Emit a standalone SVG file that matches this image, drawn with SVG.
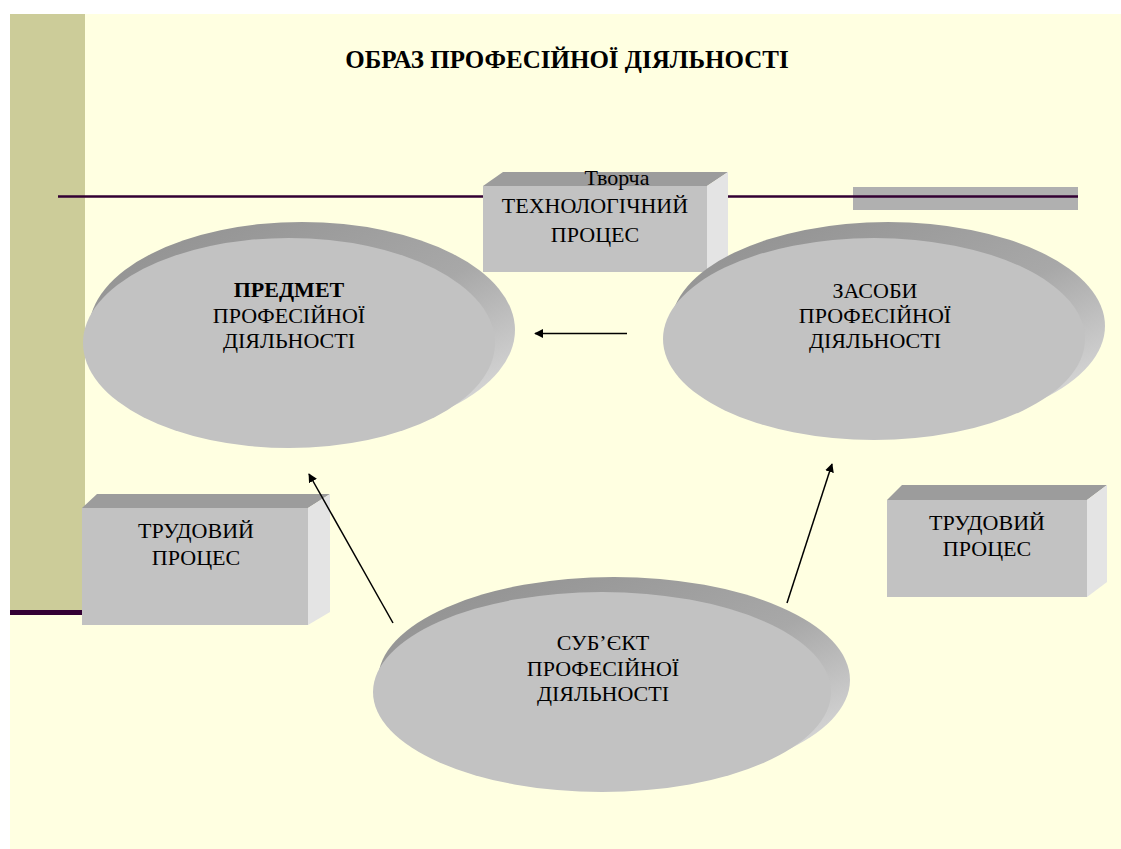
<svg xmlns="http://www.w3.org/2000/svg" width="1121" height="849" viewBox="0 0 1121 849">
<defs>
<style>
.t{font-family:"Liberation Serif","Times New Roman",serif;font-size:22px;fill:#000;text-anchor:middle}
.b{font-weight:bold}
.front{fill:#C2C2C2}
.top{fill:#9C9C9C}
.side{fill:#E4E4E4}
.conn{stroke:#000;stroke-width:1.5;fill:none;marker-end:url(#ah)}
</style>
<linearGradient id="ext" x1="0" y1="0" x2="1" y2="1">
<stop offset="0" stop-color="#8E8E8E"/>
<stop offset="0.55" stop-color="#A8A8A8"/>
<stop offset="1" stop-color="#E8E8E8"/>
</linearGradient>
<marker id="ah" viewBox="0 0 10 10" refX="9" refY="5" markerWidth="9" markerHeight="9" markerUnits="userSpaceOnUse" orient="auto">
<path d="M0,0 L10,5 L0,10 z" fill="#000"/>
</marker>
</defs>
<rect x="0" y="0" width="1121" height="849" fill="#FFFFFF"/>
<rect x="10" y="14" width="1111" height="835" fill="#FFFFE1"/>
<rect x="10" y="14" width="75" height="597" fill="#CCCC99"/>
<rect x="10" y="610" width="72" height="5" fill="#330033"/>
<rect x="853" y="187" width="225" height="23" fill="#B0B0B0"/>
<line x1="58" y1="196.5" x2="1078" y2="196.5" stroke="#330033" stroke-width="2.5"/>
<text class="t b" x="567" y="68" style="font-size:25px">ОБРАЗ ПРОФЕСІЙНОЇ ДІЯЛЬНОСТІ</text>

<g id="node-tech">
<polygon class="top" points="483,186 503,172 728,172 707,186"/>
<polygon class="side" points="707,186 728,172 728,257 707,272"/>
<rect class="front" x="483" y="186" width="224" height="86"/>
<text class="t" x="617" y="185">Творча</text>
<text class="t" x="595" y="213">ТЕХНОЛОГІЧНИЙ</text>
<text class="t" x="595" y="242">ПРОЦЕС</text>
</g>

<g id="node-predmet">
<ellipse cx="302" cy="330" rx="213" ry="108" fill="url(#ext)"/>
<ellipse class="front" cx="289" cy="343" rx="206" ry="105"/>
<text class="t b" x="289" y="297">ПРЕДМЕТ</text>
<text class="t" x="289" y="323">ПРОФЕСІЙНОЇ</text>
<text class="t" x="289" y="348">ДІЯЛЬНОСТІ</text>
</g>

<g id="node-zasoby">
<ellipse cx="888" cy="326" rx="217" ry="104" fill="url(#ext)"/>
<ellipse class="front" cx="874" cy="339" rx="211" ry="101"/>
<text class="t" x="875" y="298">ЗАСОБИ</text>
<text class="t" x="875" y="323">ПРОФЕСІЙНОЇ</text>
<text class="t" x="875" y="348">ДІЯЛЬНОСТІ</text>
</g>

<g id="node-subject">
<ellipse cx="614" cy="680" rx="236" ry="103" fill="url(#ext)"/>
<ellipse class="front" cx="602" cy="692" rx="229" ry="100"/>
<text class="t" x="603" y="650">СУБ’ЄКТ</text>
<text class="t" x="603" y="676">ПРОФЕСІЙНОЇ</text>
<text class="t" x="603" y="701">ДІЯЛЬНОСТІ</text>
</g>

<g id="node-labor-left">
<polygon class="top" points="82,508 97,494 330,494 308,508"/>
<polygon class="side" points="308,508 330,494 330,612 308,625"/>
<rect class="front" x="82" y="508" width="226" height="117"/>
<text class="t" x="196" y="538">ТРУДОВИЙ</text>
<text class="t" x="196" y="565">ПРОЦЕС</text>
</g>

<g id="node-labor-right">
<polygon class="top" points="887,500 902,485 1107,485 1087,500"/>
<polygon class="side" points="1087,500 1107,485 1107,582 1087,597"/>
<rect class="front" x="887" y="500" width="200" height="97"/>
<text class="t" x="987" y="530">ТРУДОВИЙ</text>
<text class="t" x="987" y="556">ПРОЦЕС</text>
</g>

<g id="connectors">
<line class="conn" x1="627" y1="333.5" x2="535" y2="333.5"/>
<line class="conn" x1="393" y1="623" x2="309" y2="474"/>
<line class="conn" x1="787" y1="603" x2="832" y2="464"/>
</g>
</svg>
